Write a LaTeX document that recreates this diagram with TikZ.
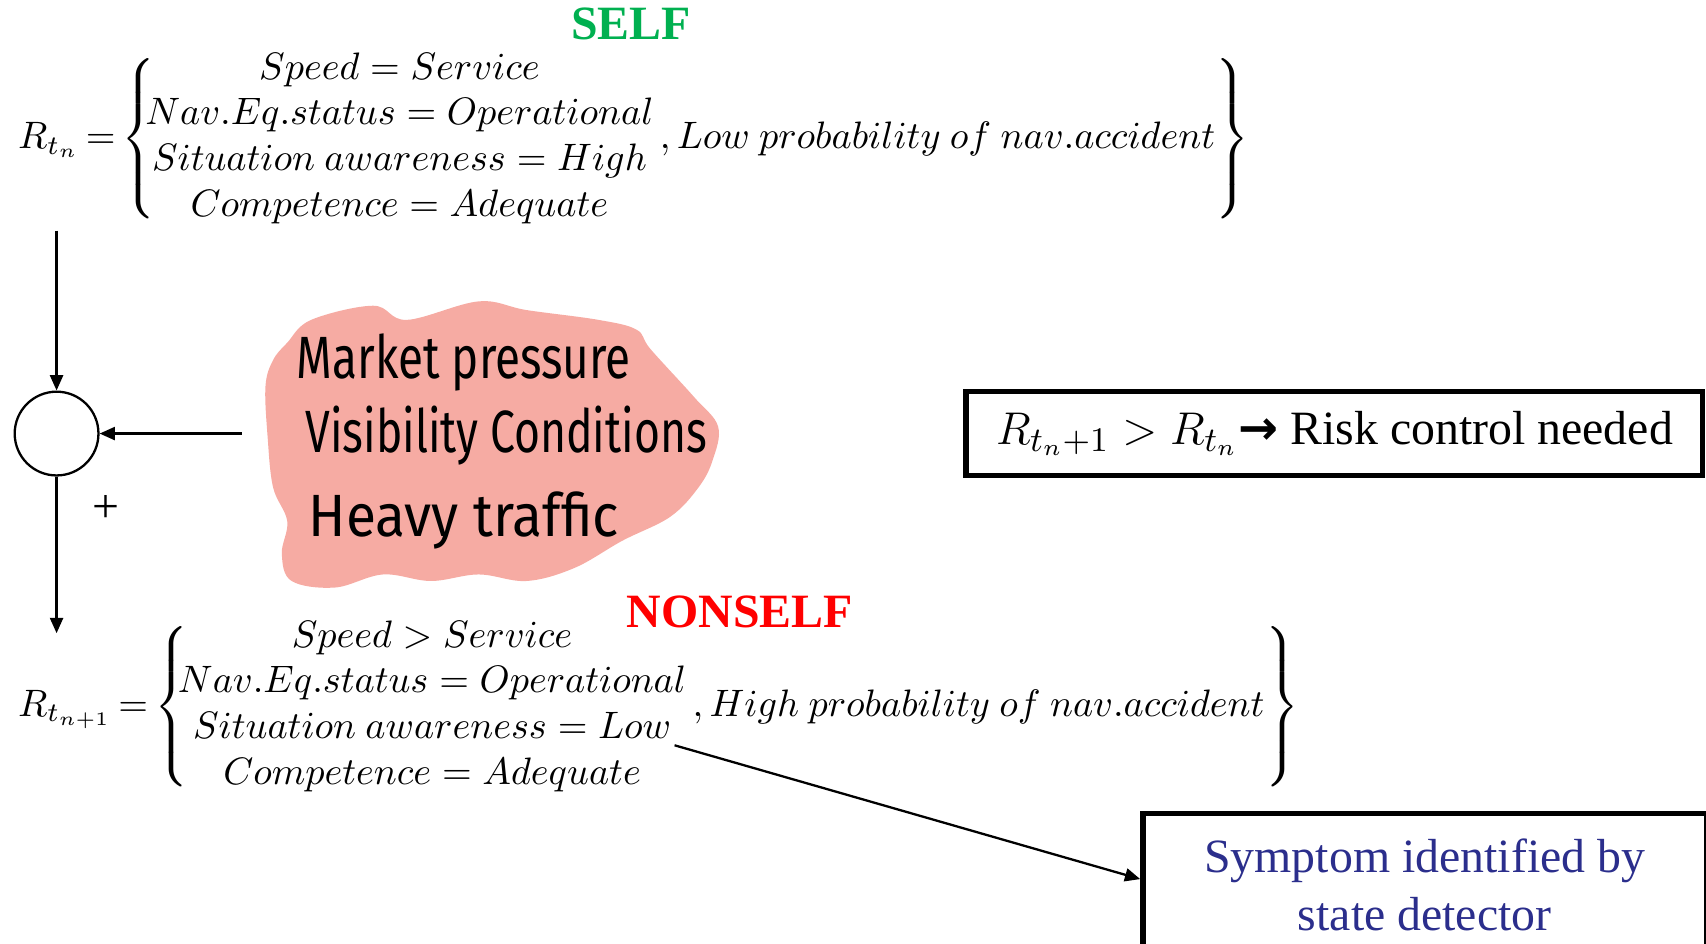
\documentclass[tikz,border=0pt]{standalone}
\usepackage{fontspec}
\setmainfont{Liberation Serif}
\newfontfamily\handfont{Fira Sans}
\newfontfamily\arrowfont{DejaVu Sans}
\usepackage{amsmath}
\usepackage{graphicx}
\usetikzlibrary{arrows.meta, positioning, calc}
\definecolor{SelfGreen}{HTML}{00B050}
\definecolor{NonRed}{HTML}{FF0000}
\definecolor{Blob}{HTML}{F6ABA3}
\definecolor{Navy}{HTML}{2B2E8C}
\delimiterfactor=800
\delimitershortfall=10pt

\begin{document}
\begin{tikzpicture}[
        font=\fontsize{12.5}{15}\selectfont,
        tag/.style={font=\fontsize{12.5}{15}\selectfont\bfseries},
        formula/.style={anchor=west, inner sep=0pt, font=\fontsize{9.8}{12}\selectfont},
        hand/.style={anchor=west, inner sep=0pt, font=\fontsize{12}{14}\selectfont\handfont},
        frame/.style={draw, line width=1.4pt, inner sep=0pt},
        summer/.style={draw, circle, semithick, minimum size=0.77cm, inner sep=0pt},
        arr/.style={-{Triangle[length=4pt, width=3.4pt]}, semithick}
      ]
        \useasboundingbox (0,0) rectangle (15.68,-8.67);

        % state before the disturbance
        \node[tag, text=SelfGreen] (self) at (5.80,-0.22) {SELF};
        \node[formula] (rtn) at (0.16,-1.275) {$R_{t_n} \mathrel{\mkern-2mu=\mkern-2mu} \left\{\mkern-5mu\begin{array}{@{}c@{}}
            Speed = Service\\
            Nav.Eq.status = Operational\\
            Situation\ awareness = High\\
            Competence = Adequate
          \end{array}\,,Low\ probability\ of\ nav.accident\right\}$};

        % summing junction
        \coordinate (top) at (0.52,-2.12);
        \node[summer] (sum) at (0.52,-3.985) {};
        \node (plus) at (0.97,-4.68) {+};
        \coordinate (feed) at (2.22,-3.985);
        \coordinate (bot) at (0.52,-5.82);

        % disturbances
        \fill[Blob] plot[smooth cycle, tension=0.6] coordinates {
            (2.51,-3.31) (2.64,-3.15) (2.86,-2.94) (3.43,-2.81) (3.74,-2.94)
            (4.40,-2.77) (4.84,-2.85) (5.50,-2.94) (5.85,-3.03) (5.98,-3.21)
            (6.38,-3.65) (6.60,-3.92) (6.55,-4.23) (6.42,-4.48) (6.16,-4.75)
            (5.72,-4.97) (5.28,-5.22) (4.84,-5.34) (4.40,-5.28) (3.96,-5.34)
            (3.52,-5.28) (3.08,-5.40) (2.68,-5.34) (2.59,-5.09) (2.64,-4.79)
            (2.51,-4.48) (2.46,-4.02) (2.44,-3.55)};
        \node[hand] (market) at (2.72,-3.33) {\scalebox{1}[1.3]{Market pressure}};
        \node[hand] (visib) at (2.80,-4.00) {\scalebox{0.97}[1.3]{Visibility Conditions}};
        \node[hand] (traffic) at (2.83,-4.78) {\scalebox{1.2}[1.3]{Heavy traffic}};

        % state after the disturbance
        \node[tag, text=NonRed] (nonself) at (6.80,-5.62) {NONSELF};
        \node[formula] (rtn1) at (0.16,-6.495) {$R_{t_{n+1}} \mathrel{\mkern-2mu=\mkern-2mu} \left\{\mkern-5mu\begin{array}{@{}c@{}}
            Speed > Service\\
            Nav.Eq.status = Operational\\
            Situation\ awareness = Low\\
            Competence = Adequate
          \end{array}\,,High\ probability\ of\ nav.accident\right\}$};
        \coordinate (low) at (6.20,-6.85);

        \node[frame, minimum width=6.77cm, minimum height=0.77cm] (risk) at (12.265,-3.985)
          {$R_{t_n+1} > R_{t_n}${\arrowfont\bfseries →} Risk control needed};
        \node[frame, anchor=north west, minimum width=5.18cm, minimum height=1.32cm,
          align=center, text=Navy] (symp) at (10.48,-7.45) {Symptom identified by\\state detector};

        \draw[arr] (top) -- (sum.north);
        \draw[arr] (feed) -- (sum.east);
        \draw[arr] (sum.south) -- (bot);
        \draw[arr] (low) -- ([yshift=-0.63cm]symp.north west);
      \end{tikzpicture}
\end{document}
